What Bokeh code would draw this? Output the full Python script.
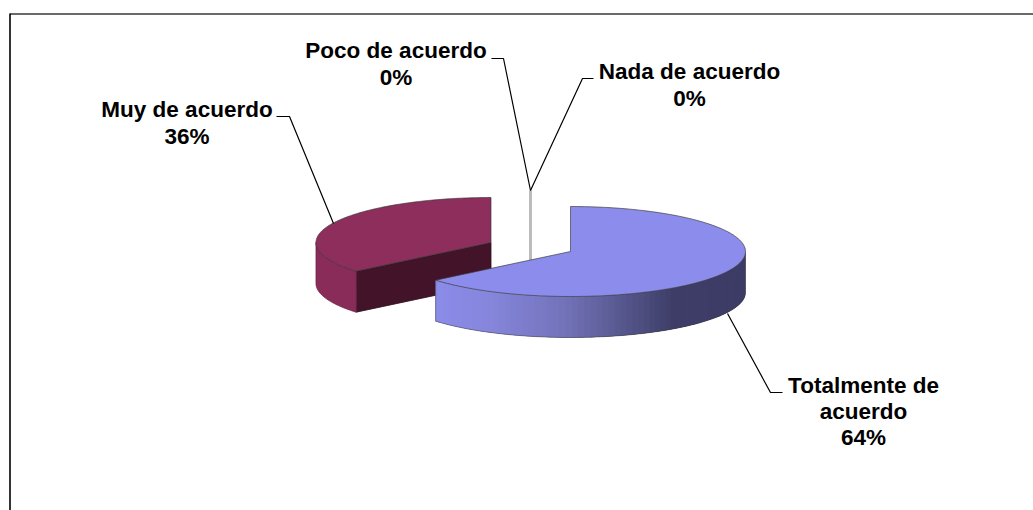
import numpy as np
from bokeh.plotting import figure
from bokeh.models import Range1d
from bokeh.core.properties import value
from bokeh.embed import file_html
from bokeh.resources import INLINE

# ---- data ----
categories = ["Totalmente de\nacuerdo", "Muy de acuerdo", "Poco de acuerdo", "Nada de acuerdo"]
percent = [64, 36, 0, 0]

# ---- layout (page pixels) ----
W, H = 1033, 510
OX, OY = 0, 0
RX, RY, DEPTH = 175, 45, 41
centers = [(570, 251), (490.5, 242), (530, 235), (530, 235)]
label_pos = [(863, 385), (186.5, 109), (395.5, 50), (689, 71)]
LH = [26, 26.5, 27, 27]
leaders_x = [[782, 770, 727], [276, 289, 333], [491, 503, 530], [593, 582, 530]]
leaders_y = [[392, 392, 313], [116, 116, 223], [58, 58, 190], [78, 78, 190]]

p = figure(width=W, height=H, output_backend="svg", toolbar_location=None,
           x_range=Range1d(OX, OX + W), y_range=Range1d(OY + H, OY),
           min_border=0, outline_line_color=None, background_fill_color="white")
p.axis.visible = False
p.grid.visible = False

# frame
p.line([OX + W, 9.5], [13.5, 13.5], line_color="#383838", line_width=1.4)
p.line([9.5, 9.5], [13, OY + H], line_color="black", line_width=1.6)

# angles clockwise from 12 o'clock
total = sum(percent)
ends = np.cumsum(percent) / total * 2 * np.pi
starts = np.concatenate([[0], ends[:-1]])


def pt(c, a, rx=RX, ry=RY):
    return c[0] + rx * np.sin(a), c[1] - ry * np.cos(a)


def arc(c, a0, a1, n=120):
    a = np.linspace(a0, a1, n)
    return pt(c, a)


EDGE = "#3a3a3a"

# ---- maroon slice ----
c = centers[1]
a0, a1 = starts[1], ends[1]
cx, cy = pt(c, a0)
# radial wall
p.patch([c[0], cx, cx, c[0]], [c[1], cy, cy + DEPTH, c[1] + DEPTH],
        fill_color="#431429", line_color="#2c0d1b", line_width=0.8)
# outer wall (front part only, up to the 9 o'clock point)
xs, ys = arc(c, a0, 1.5 * np.pi, 40)
p.patch(np.r_[xs, xs[::-1]], np.r_[ys, ys[::-1] + DEPTH],
        fill_color="#8a2c59", line_color="#6a2545", line_width=0.8)
# top
xs, ys = arc(c, a0, a1)
p.patch(np.r_[c[0], xs], np.r_[c[1], ys], fill_color="#8e2e5c", line_color=EDGE,
        line_width=0.9, line_alpha=0.75)

# ---- zero-size slices: a thin grey sliver ----
c = centers[2]
p.segment([c[0]], [c[1] - RY], [c[0]], [c[1] + DEPTH], line_color="#bcbcbc", line_width=3)

# ---- blue slice ----
c = centers[0]
a0, a1 = starts[0], ends[0]
stop_x = [436, 490, 560, 607, 673, 744]
stop_r = [0x8c, 0x86, 0x74, 0x5f, 0x3e, 0x3c]
stop_g = [0x8c, 0x86, 0x74, 0x5f, 0x3e, 0x3c]
stop_b = [0xea, 0xdc, 0xbc, 0x9a, 0x68, 0x66]
angles = np.linspace(0.5 * np.pi, a1, 70)
sx, sy, sc = [], [], []
for i in range(len(angles) - 1):
    j = min(i + 3, len(angles) - 1)      # overlap the next strips so no seams show
    seg = np.linspace(angles[i], angles[j], 6)
    xa, ya = pt(c, seg)
    m = pt(c, (angles[i] + angles[i + 1]) / 2)[0]
    col = "#%02x%02x%02x" % tuple(int(np.interp(m, stop_x, s)) for s in (stop_r, stop_g, stop_b))
    sx.append(np.r_[xa, xa[::-1]])
    sy.append(np.r_[ya, ya[::-1] + DEPTH])
    sc.append(col)
p.patches(sx, sy, fill_color=sc, line_color=None)
# wall outline
xs, ys = arc(c, 0.5 * np.pi, a1)
p.line(np.r_[xs[0], xs, xs[-1]], np.r_[ys[0], ys + DEPTH, ys[-1]],
       line_color=EDGE, line_width=0.8, line_alpha=0.6)
# top
xs, ys = arc(c, a0, a1, 200)
p.patch(np.r_[c[0], xs], np.r_[c[1], ys], fill_color="#8c8cec", line_color=EDGE,
        line_width=0.9, line_alpha=0.75)

# ---- leaders ----
p.multi_line(leaders_x, leaders_y, line_color="black", line_width=1.2)

# ---- labels ----
tx, ty, tt = [], [], []
for name, v, pos, lh in zip(categories, percent, label_pos, LH):
    for i, line in enumerate(name.split("\n") + [f"{v}%"]):
        tx.append(pos[0])
        ty.append(pos[1] + i * lh)
        tt.append(line)
p.text(tx, ty, text=tt, text_font=value("Liberation Sans"), text_font_style="bold",
       text_font_size="22.5px", text_color="black", text_align="center",
       text_baseline="alphabetic")

open("out.html", "w").write(file_html(p, INLINE))
